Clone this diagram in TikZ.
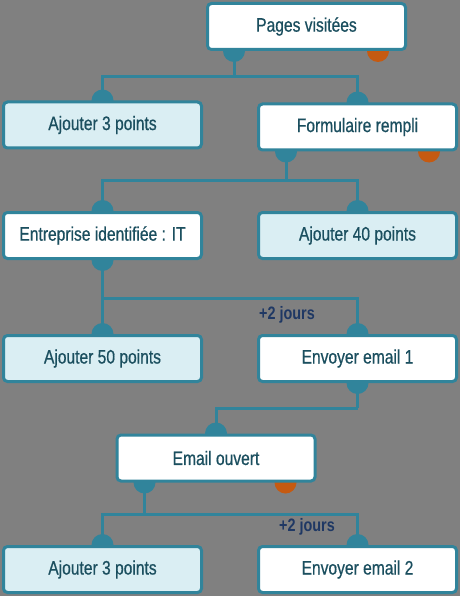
\documentclass[tikz,border=0pt]{standalone}
\usepackage{fontspec}
\setmainfont[FakeStretch=0.8,FakeBold=0.6]{Liberation Sans}
\newfontfamily\lblfont[FakeStretch=0.8]{Liberation Sans}
\usetikzlibrary{backgrounds}
\definecolor{bgc}{HTML}{808080}
\definecolor{tealc}{HTML}{31849B}
\definecolor{lightc}{HTML}{DAEEF3}
\definecolor{txtc}{HTML}{1B4F5F}
\definecolor{navyc}{HTML}{1F3864}
\definecolor{orangec}{HTML}{C55A11}
\begin{document}
\begin{tikzpicture}[x=1pt,y=-1pt,
  box/.style={draw=tealc, line width=3pt, rounded corners=4pt, minimum width=198pt,
    minimum height=46pt, fill=white, text=txtc, inner sep=0pt,
    font=\fontsize{19.5}{21}\selectfont},
  lbox/.style={box, fill=lightc},
  conn/.style={draw=tealc, line width=3pt},
  lbl/.style={text=navyc, inner sep=0pt, font=\lblfont\bfseries\fontsize{18}{20}\selectfont},
  tdot/.style={fill=tealc},
  odot/.style={fill=orangec}]
\useasboundingbox (0,0) rectangle (460,596);
\node[box] (pv) at (306.5,26.5) {Pages visitées};
\node[lbox] (a3) at (102.5,125) {Ajouter 3 points};
\node[box] (fr) at (357.5,127) {Formulaire rempli};
\node[box] (ei) at (102.5,235.5) {Entreprise identifiée : IT};
\node[lbox] (a40) at (357.5,235.5) {Ajouter 40 points};
\node[lbox] (a50) at (102.5,358.5) {Ajouter 50 points};
\node[box] (e1) at (357.5,358.5) {Envoyer email 1};
\node[box] (eo) at (216,458) {Email ouvert};
\node[lbox] (a3b) at (102.5,569.5) {Ajouter 3 points};
\node[box] (e2) at (357.5,569.5) {Envoyer email 2};
\node[lbl] (d1) at (287,315) {+2 jours};
\node[lbl] (d2) at (307,527) {+2 jours};
\begin{scope}[on background layer]
\fill[bgc] (0,0) rectangle (460,596);
% output points
\coordinate (pvo) at ([xshift=28pt]pv.south west);
\coordinate (pvr) at ([xshift=-29pt]pv.south east);
\coordinate (fro) at ([xshift=29pt]fr.south west);
\coordinate (frr) at ([xshift=-29pt]fr.south east);
\coordinate (eoo) at ([xshift=29pt]eo.south west);
\coordinate (eor) at ([xshift=-31pt]eo.south east);
% connectors
\draw[conn] (pvo) -- ++(0,26) coordinate (j1);
\draw[conn] (a3.north) |- (j1) -| (fr.north);
\draw[conn] (fro) -- ++(0,29) coordinate (j2);
\draw[conn] (ei.north) |- (j2) -| (a40.north);
\draw[conn] (ei.south) -- (a50.north);
\path (ei.south) ++(0,38) coordinate (j3);
\draw[conn] (j3) -| (e1.north);
\draw[conn] (e1.south) -- ++(0,25) coordinate (j4);
\draw[conn] (j4) -| (eo.north);
\draw[conn] (eoo) -- ++(0,32) coordinate (j5);
\draw[conn] (a3b.north) |- (j5) -| (e2.north);
% dots
\foreach \p in {pvo,fro,eoo,a3.north,fr.north,ei.north,a40.north,ei.south,a50.north,e1.north,e1.south,eo.north,a3b.north,e2.north}
  \fill[tdot] (\p) circle (11pt);
\foreach \p in {pvr,frr,eor}
  \fill[odot] (\p) circle (11pt);
\end{scope}
\end{tikzpicture}
\end{document}
